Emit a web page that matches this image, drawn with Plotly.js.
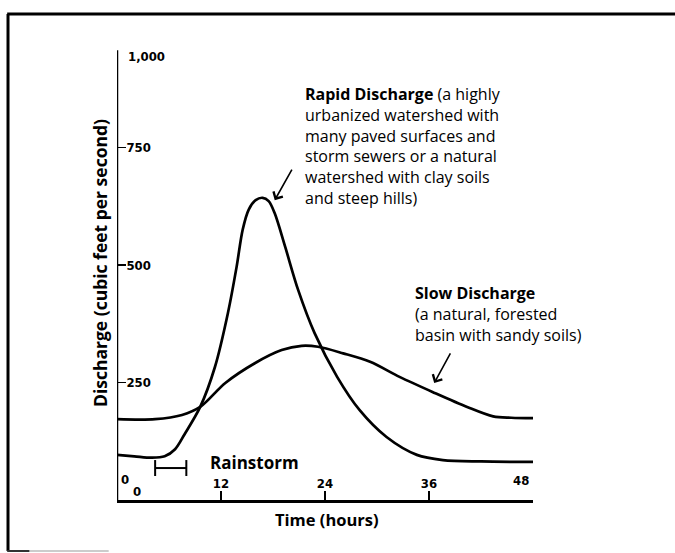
<!DOCTYPE html>
<html>
<head>
<meta charset="utf-8">
<script src="https://cdn.plot.ly/plotly-3.0.1.min.js"></script>
<style>html,body{margin:0;padding:0;background:#fff;}#chart{width:675px;height:553px;}</style>
</head>
<body>
<div id="chart"></div>
<script>
// Time (hours) and discharge (cubic feet per second)
const rapidTime = [0, 2, 4, 5.5, 6.7, 7.8, 9.6, 11.3, 12.8, 13.8, 14.5, 15.2, 16, 16.8, 17.5, 18.2, 19.4, 20.9, 22.8, 25.4, 28, 31.1, 34.6, 37.6, 42, 48];
const rapidQ    = [96, 93, 90, 93, 108, 140, 198, 283, 398, 496, 575, 618, 638, 643, 636, 610, 539, 447, 355, 262, 191, 134, 96, 85, 82, 81];
const slowTime  = [0, 4.4, 7.5, 9.6, 12.5, 15.9, 19, 21.3, 23.2, 26.1, 29.2, 32.6, 36.4, 40.4, 43.4, 45.5, 48];
const slowQ     = [172, 172, 181, 198, 249, 291, 319, 328, 326, 312, 294, 262, 230, 198, 178, 175, 174];
const yTicks = [250, 500, 750];
const yTickText = ["250", "500", "750"];
const xTicks = [12, 24, 36];
const xTickText = ["12", "24", "36"];
const rainStart = 4.4, rainEnd = 8;
const rapidLines = ['<b>Rapid Discharge</b> (a highly', 'urbanized watershed with', 'many paved surfaces and',
                    'storm sewers or a natural', 'watershed with clay soils', 'and steep hills)'];
const slowLines = ['<b>Slow Discharge</b>', '(a natural, forested', 'basin with sandy soils)'];

const sans = '"Open Sans", "Noto Sans", sans-serif';
const narrow = '"Liberation Sans Narrow", "DejaVu Sans Condensed", sans-serif';
const tickFont = {family: narrow, size: 13, color: '#000', weight: 'bold'};

const traces = [
  {x: rapidTime, y: rapidQ, mode: 'lines', line: {color: '#000', width: 2.7, shape: 'spline', smoothing: 0.9}, hoverinfo: 'skip'},
  {x: slowTime, y: slowQ, mode: 'lines', line: {color: '#000', width: 2.7, shape: 'spline', smoothing: 0.9}, hoverinfo: 'skip'}
];

const annotations = [
  {xref: 'x', yref: 'y', x: 0, y: 943, text: '1,000', showarrow: false, xanchor: 'left', xshift: 9, font: tickFont},
  {xref: 'x', yref: 'y', x: 0, y: 43, text: '0', showarrow: false, xanchor: 'left', xshift: 2, font: tickFont},
  {xref: 'x', yref: 'y', x: 0, y: 19, text: '0', showarrow: false, xanchor: 'left', xshift: 14, font: tickFont},
  {xref: 'x', yref: 'y', x: 46.6, y: 42.5, text: '48', showarrow: false, font: tickFont},
  {xref: 'x', yref: 'y', x: 10.5, y: 79, text: '<b>Rainstorm</b>', showarrow: false, xanchor: 'left',
   font: {family: sans, size: 17, color: '#000'}},
  {xref: 'paper', yref: 'paper', x: 0.505, y: -0.042, text: '<b>Time (hours)</b>', showarrow: false,
   xanchor: 'center', yanchor: 'middle', font: {family: sans, size: 16.5, color: '#000'}},
  {xref: 'paper', yref: 'paper', x: -0.041, y: 0.504, text: '<b>Discharge (cubic feet per second)</b>', showarrow: false,
   xanchor: 'center', yanchor: 'middle', textangle: -90, font: {family: sans, size: 17.5, color: '#000'}},
  {xref: 'x', yref: 'y', x: 21.46, y: 753, text: rapidLines.join('<br>'), showarrow: false,
   xanchor: 'left', yanchor: 'middle', align: 'left', font: {family: sans, size: 16, color: '#000'}},
  {xref: 'x', yref: 'y', x: 34.15, y: 396, text: slowLines.join('<br>'), showarrow: false,
   xanchor: 'left', yanchor: 'middle', align: 'left', font: {family: sans, size: 16, color: '#000'}},
  {xref: 'x', yref: 'y', x: 18.2, y: 638, text: '', showarrow: true, ax: 18, ay: -32,
   arrowhead: 4, arrowsize: 1.3, arrowwidth: 1.6, arrowcolor: '#000', standoff: 0},
  {xref: 'x', yref: 'y', x: 36.6, y: 249, text: '', showarrow: true, ax: 17, ay: -31,
   arrowhead: 4, arrowsize: 1.3, arrowwidth: 1.6, arrowcolor: '#000', standoff: 0}
];

const frame = {color: '#000', width: 3};
const layout = {
  width: 675, height: 553,
  margin: {l: 117, r: 142, t: 30, b: 53},
  paper_bgcolor: '#fff', plot_bgcolor: '#fff',
  showlegend: false,
  xaxis: {
    range: [0, 48], showgrid: false, zeroline: false,
    showline: true, linecolor: '#000', linewidth: 2.5,
    tickvals: xTicks, ticktext: xTickText,
    ticks: 'inside', ticklen: 9, tickwidth: 1.5, tickcolor: '#000',
    ticklabelposition: 'inside', tickfont: tickFont
  },
  yaxis: {
    range: [0, 1000], showgrid: false, zeroline: false,
    showline: false,
    tickvals: yTicks, ticktext: yTickText,
    ticks: 'inside', ticklen: 9, tickwidth: 1.5, tickcolor: '#000',
    ticklabelposition: 'inside', tickfont: tickFont
  },
  shapes: [
    {type: 'line', xref: 'x', yref: 'y', x0: 0, x1: 0, y0: 0, y1: 957, line: {color: '#000', width: 2.5}},
    {type: 'line', xref: 'x', yref: 'y', x0: rainStart, x1: rainEnd, y0: 68, y1: 68, line: {color: '#000', width: 2}},
    {type: 'line', xref: 'x', yref: 'y', x0: rainStart, x1: rainStart, y0: 51, y1: 85, line: {color: '#000', width: 2}},
    {type: 'line', xref: 'x', yref: 'y', x0: rainEnd, x1: rainEnd, y0: 51, y1: 85, line: {color: '#000', width: 2}},
    {type: 'line', xref: 'paper', yref: 'paper', x0: -0.264, x1: 1.345, y0: 1.034, y1: 1.034, line: frame},
    {type: 'line', xref: 'paper', yref: 'paper', x0: -0.262, x1: -0.262, y0: 1.034, y1: -0.1085, line: frame},
    {type: 'line', xref: 'paper', yref: 'paper', x0: -0.264, x1: -0.21, y0: -0.1085, y1: -0.1085, line: {color: '#333', width: 2}},
    {type: 'line', xref: 'paper', yref: 'paper', x0: -0.21, x1: -0.02, y0: -0.1085, y1: -0.1085, line: {color: '#ccc', width: 2}}
  ],
  annotations: annotations
};

Plotly.newPlot('chart', traces, layout, {displayModeBar: false, staticPlot: true});
</script>
</body>
</html>
